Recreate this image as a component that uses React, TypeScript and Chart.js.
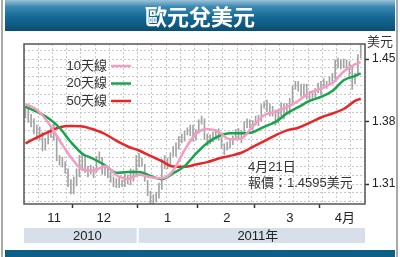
import { useEffect, useRef } from 'react';
import { Chart, registerables } from 'chart.js';

Chart.register(...registerables);

// Daily high / low (trading days, 8 Nov 2010 – 21 Apr 2011)
const barHigh = [
  1.3975, 1.396, 1.388, 1.383, 1.376, 1.374, 1.368, 1.361, 1.37, 1.374, 1.377, 1.362, 1.342, 1.34, 1.335, 1.327, 1.315,
  1.318, 1.327, 1.342, 1.344, 1.341, 1.33, 1.331, 1.329, 1.341, 1.346, 1.34, 1.329, 1.327, 1.323, 1.318, 1.316, 1.317, 1.314, 1.321, 1.32, 1.327, 1.326, 1.342,
  1.344, 1.339, 1.332, 1.314, 1.302, 1.298, 1.301, 1.311, 1.338, 1.342, 1.339, 1.345, 1.352, 1.356, 1.363, 1.366, 1.369, 1.373, 1.376, 1.376, 1.371,
  1.382, 1.386, 1.383, 1.366, 1.365, 1.368, 1.371, 1.372, 1.362, 1.355, 1.357, 1.36, 1.364, 1.371, 1.372, 1.37, 1.38, 1.383, 1.382, 1.381,
  1.386, 1.387, 1.399, 1.402, 1.404, 1.4, 1.397, 1.393, 1.394, 1.401, 1.4, 1.4, 1.406, 1.42, 1.425, 1.425, 1.422, 1.422, 1.422, 1.414, 1.412, 1.417, 1.423,
  1.425, 1.428, 1.425, 1.43, 1.434, 1.449, 1.451, 1.449, 1.45, 1.449, 1.447, 1.442, 1.434, 1.455, 1.466,
];
const barLow = [
  1.384, 1.379, 1.374, 1.366, 1.36, 1.359, 1.347, 1.348, 1.355, 1.362, 1.359, 1.336, 1.331, 1.329, 1.322, 1.307, 1.299,
  1.299, 1.308, 1.318, 1.325, 1.323, 1.318, 1.321, 1.317, 1.323, 1.335, 1.321, 1.32, 1.317, 1.312, 1.307, 1.306, 1.306, 1.307, 1.307, 1.31, 1.309, 1.313, 1.319,
  1.329, 1.33, 1.313, 1.297, 1.288, 1.288, 1.29, 1.294, 1.304, 1.327, 1.327, 1.332, 1.341, 1.341, 1.349, 1.356, 1.358, 1.365, 1.364, 1.358, 1.359,
  1.367, 1.377, 1.36, 1.353, 1.355, 1.357, 1.362, 1.359, 1.35, 1.343, 1.348, 1.35, 1.354, 1.36, 1.362, 1.356, 1.366, 1.373, 1.373, 1.371,
  1.376, 1.375, 1.38, 1.395, 1.391, 1.386, 1.386, 1.376, 1.378, 1.386, 1.383, 1.39, 1.388, 1.4, 1.416, 1.414, 1.408, 1.409, 1.405, 1.402, 1.403, 1.407, 1.412,
  1.41, 1.418, 1.417, 1.421, 1.425, 1.428, 1.44, 1.439, 1.44, 1.44, 1.431, 1.416, 1.422, 1.431, 1.451,
];

// Moving averages, read at sampled trading days
const maDays = [0, 4, 8, 12, 16, 20, 24, 28, 32, 36, 40, 44, 48, 52, 56, 60, 64, 68, 72, 76, 80, 84, 88, 92, 96, 100, 104, 108, 112, 116, 118];
const ma10 = [1.3996, 1.393, 1.379, 1.359, 1.34, 1.3265, 1.325, 1.33, 1.32, 1.3156, 1.3205, 1.3175, 1.3165, 1.325, 1.348, 1.366, 1.3716, 1.368, 1.36, 1.361, 1.3745, 1.387, 1.391, 1.396, 1.403, 1.412, 1.417, 1.423, 1.436, 1.444, 1.4465];
const ma20 = [1.3966, 1.391, 1.384, 1.373, 1.357, 1.344, 1.338, 1.331, 1.3225, 1.3235, 1.3235, 1.319, 1.3155, 1.322, 1.33, 1.344, 1.356, 1.3635, 1.3668, 1.3668, 1.368, 1.374, 1.3795, 1.389, 1.396, 1.403, 1.4075, 1.4142, 1.4262, 1.431, 1.434];
const ma50 = [1.3555, 1.362, 1.368, 1.3735, 1.375, 1.3745, 1.371, 1.366, 1.3585, 1.352, 1.3475, 1.3415, 1.3355, 1.3295, 1.3292, 1.3318, 1.3345, 1.3385, 1.3415, 1.345, 1.3515, 1.358, 1.3645, 1.37, 1.373, 1.3785, 1.3845, 1.389, 1.394, 1.403, 1.4055];
const seriesLabels = ['10天線', '20天線', '50天線'];
const seriesColors = ['#f59cc3', '#17a44c', '#e8262a'];

const gridDays = [0, 5, 10, 15, 20, 25, 30, 35, 40, 45, 50, 55, 60, 65, 70, 75, 80, 85, 90, 95, 100, 105, 110, 115, 120];
const monthBounds = [17, 40, 61, 81, 104];
const monthLabelPos = [10.6, 28.1, 50.5, 71.4, 93.6, 112.9];
const monthLabels = ['11', '12', '1', '2', '3', '4月'];
const yearLabels = ['2010', '2011年'];
const yearStarts = [0, 40];
const yearEnds = [40, 120];
const yearLabelPos = [22.3, 82.3];

const yGridValues = [1.29, 1.3, 1.31, 1.32, 1.33, 1.34, 1.35, 1.36, 1.37, 1.38, 1.39, 1.4, 1.41, 1.42, 1.43, 1.44, 1.45, 1.46];
const yLabelValues = [1.31, 1.38, 1.45];

const titleText = '歐元兌美元';
const unitText = '美元';
const noteLines = ['4月21日', '報價：1.4595美元'];

const FONT = '"Liberation Sans", Arial, "Noto Sans CJK TC", sans-serif';

const isYLabel = (v: number) => yLabelValues.some((l) => Math.abs(l - v) < 1e-6);

const decorPlugin = {
  id: 'decor',
  afterDraw(chart: any) {
    const { ctx, chartArea, scales } = chart;
    const xs = scales.x;
    ctx.save();
    // frame
    ctx.strokeStyle = '#555';
    ctx.lineWidth = 1.5;
    ctx.strokeRect(chartArea.left, chartArea.top, chartArea.right - chartArea.left, chartArea.bottom - chartArea.top);

    // legend (text then line)
    ctx.font = '13px ' + FONT;
    ctx.textBaseline = 'middle';
    chart.data.datasets.forEach((ds: any, i: number) => {
      if (ds.type !== 'line') return;
      const y = chartArea.top + 22 + i * 17.5;
      ctx.fillStyle = '#333';
      ctx.textAlign = 'right';
      ctx.fillText(ds.label, chartArea.left + 83, y);
      ctx.strokeStyle = ds.borderColor;
      ctx.lineWidth = 2.5;
      ctx.beginPath();
      ctx.moveTo(chartArea.left + 87, y);
      ctx.lineTo(chartArea.left + 107, y);
      ctx.stroke();
    });

    // note
    ctx.fillStyle = '#333';
    ctx.textAlign = 'left';
    ctx.fillText(noteLines[0], chartArea.left + 224, chartArea.top + 123);
    ctx.fillText(noteLines[1], chartArea.left + 224, chartArea.top + 139.5);

    // unit
    ctx.textAlign = 'center';
    ctx.fillText(unitText, chartArea.right + 15, chartArea.top - 2);

    // year bands
    const bandTop = chartArea.bottom + 24;
    const bandH = 15;
    yearLabels.forEach((lab, i) => {
      const x1 = xs.getPixelForValue(yearStarts[i]) + (i > 0 ? 1 : 0);
      const x2 = xs.getPixelForValue(yearEnds[i]) - (i < yearLabels.length - 1 ? 1 : 0);
      ctx.fillStyle = '#d7e0ea';
      ctx.fillRect(x1, bandTop, x2 - x1, bandH);
      ctx.fillStyle = '#222';
      ctx.textAlign = 'center';
      ctx.fillText(lab, xs.getPixelForValue(yearLabelPos[i]), bandTop + bandH / 2 + 0.5);
    });
    ctx.restore();
  },
};

export default function App() {
  const ref = useRef<HTMLCanvasElement | null>(null);

  useEffect(() => {
    if (!ref.current) return;
    Chart.defaults.font.family = FONT;
    const xTicks = Array.from(new Set([...gridDays, ...monthBounds, ...monthLabelPos])).sort((a, b) => a - b);
    const lineSets = [ma10, ma20, ma50].map((vals, s) => ({
      type: 'line' as const,
      label: seriesLabels[s],
      data: maDays.map((d, i) => ({ x: d + 0.5, y: vals[i] })),
      borderColor: seriesColors[s],
      borderWidth: 2.5,
      pointRadius: 0,
      cubicInterpolationMode: 'monotone' as const,
      order: s + 1,
    }));
    const chart = new Chart(ref.current, {
      type: 'line',
      data: {
        datasets: [
          ...lineSets,
          {
            type: 'bar' as const,
            label: 'bars',
            data: barHigh.map((h, i) => ({ x: i + 0.5, y: [barLow[i], h] })) as any,
            backgroundColor: '#a3a3a3',
            barThickness: 1,
            grouped: false,
            order: 10,
          },
        ] as any,
      },
      options: {
        animation: false,
        responsive: false,
        maintainAspectRatio: false,
        events: [],
        layout: { padding: { left: 24, top: 44, right: 0, bottom: 33 } },
        plugins: { legend: { display: false }, tooltip: { enabled: false } },
        scales: {
          x: {
            type: 'linear',
            min: 0,
            max: 120,
            offset: false,
            afterBuildTicks: (s: any) => {
              s.ticks = xTicks.map((v) => ({ value: v }));
            },
            afterFit: (s: any) => {
              s.height = 20;
            },
            grid: {
              offset: false,
              color: (c: any) => (gridDays.includes(c.tick?.value) ? '#c9c9c9' : 'rgba(0,0,0,0)'),
              tickColor: (c: any) => (monthBounds.includes(c.tick?.value) ? '#333' : 'rgba(0,0,0,0)'),
              tickLength: 4,
              tickWidth: 1.5,
              lineWidth: 1,
            },
            border: { display: false, dash: [2, 2] },
            ticks: {
              autoSkip: false,
              maxRotation: 0,
              minRotation: 0,
              padding: 3,
              color: '#222',
              font: { size: 13 },
              callback: (v: any) => {
                const i = monthLabelPos.indexOf(v);
                return i >= 0 ? monthLabels[i] : '';
              },
            },
          },
          y: {
            type: 'linear',
            position: 'right',
            min: 1.2876,
            max: 1.4668,
            afterBuildTicks: (s: any) => {
              s.ticks = yGridValues.map((v) => ({ value: v }));
            },
            afterFit: (s: any) => {
              s.width = 35;
            },
            grid: {
              color: '#c9c9c9',
              tickColor: (c: any) => (isYLabel(c.tick?.value) ? '#333' : 'rgba(0,0,0,0)'),
              tickLength: 4,
              tickWidth: 1.5,
              lineWidth: 1,
            },
            border: { display: false, dash: [2, 2] },
            ticks: {
              autoSkip: false,
              padding: 3,
              color: '#222',
              font: { size: 12 },
              callback: (v: any) => (isYLabel(v) ? Number(v).toFixed(2) : ''),
            },
          },
        },
      } as any,
      plugins: [decorPlugin],
    });
    return () => chart.destroy();
  }, []);

  return (
    <div style={{ position: 'absolute', left: 0, top: 0, width: 400, height: 257, background: '#fff', overflow: 'hidden' }}>
      <div style={{ position: 'absolute', left: 1, top: 0, width: 2, height: 257, background: '#a9a9a9' }} />
      <div style={{ position: 'absolute', left: 396, top: 0, width: 2, height: 257, background: '#a9a9a9' }} />
      <canvas ref={ref} width={400} height={257} style={{ position: 'absolute', left: 0, top: 0, width: 400, height: 257 }} />
      <div
        style={{
          position: 'absolute',
          left: 5,
          top: 0,
          width: 390,
          height: 31,
          background: 'linear-gradient(to bottom, #9cc3d8 0%, #3a88b2 22%, #156a95 55%, #0a4e74 100%)',
          color: '#fff',
          fontFamily: '"Noto Sans CJK TC", sans-serif',
          fontWeight: 'bold',
          fontSize: 22,
          lineHeight: '31px',
          textAlign: 'center',
        }}
      >
        {titleText}
      </div>
      <div style={{ position: 'absolute', left: 5, top: 250, width: 390, height: 7, background: '#0e5f88' }} />
    </div>
  );
}
